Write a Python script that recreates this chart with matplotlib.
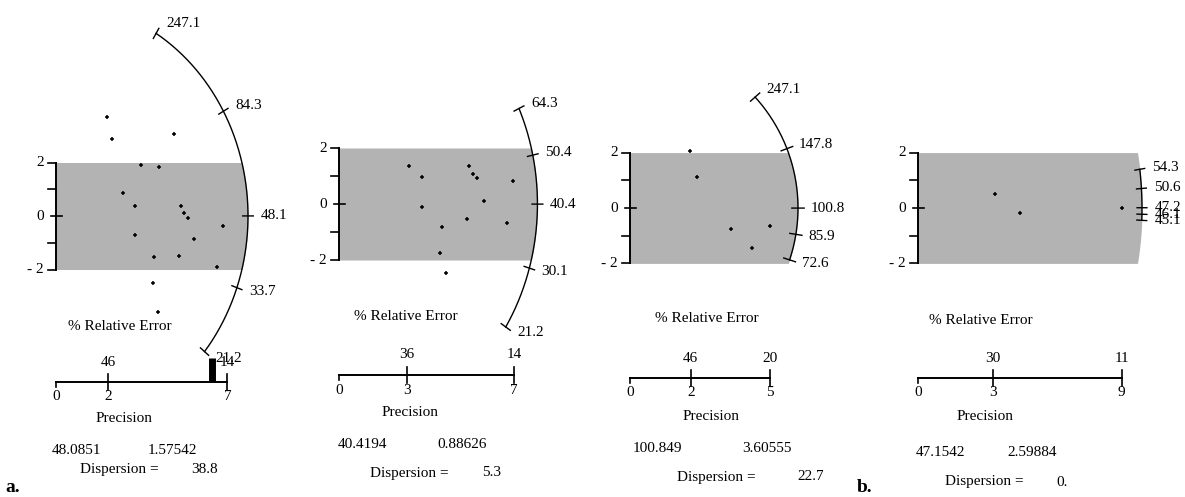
import numpy as np
import matplotlib.pyplot as plt

plt.rcParams['font.family'] = ['Liberation Serif', 'DejaVu Serif']

W, H = 1185, 497

# ---- panel 1 ----
p1_prec = [2.11, 2.35, 4.92, 3.53, 4.28, 2.79, 3.29, 5.21, 5.35, 5.51, 6.94, 3.31, 5.76,
           4.10, 5.14, 6.69, 4.03, 4.26]
p1_z = [3.69, 2.87, 3.07, 1.92, 1.82, 0.85, 0.39, 0.39, 0.10, -0.07, -0.37, -0.72, -0.87,
        -1.55, -1.50, -1.92, -2.52, -3.58]
p1_center = 48.0851
p1_sd = '1.57542'
p1_disp = '38.8'
p1_arc = [247.1, 84.3, 48.1, 33.7, 21.2]
p1_radius = 8.0
p1_relerr = [46, 14]
p1_prec_labels = ['2', '7']

# ---- panel 2 ----
p2_prec = [2.87, 3.37, 5.32, 5.46, 5.65, 7.09, 5.92, 3.37, 5.24, 6.84, 4.19, 4.12, 4.37]
p2_z = [1.36, 0.98, 1.36, 1.07, 0.92, 0.83, 0.11, -0.12, -0.55, -0.69, -0.81, -1.74, -2.48]
p2_center = 40.4194
p2_sd = '0.88626'
p2_disp = '5.3'
p2_arc = [64.3, 50.4, 40.4, 30.1, 21.2]
p2_radius = 8.1
p2_relerr = [36, 14]
p2_prec_labels = ['3', '7']

# ---- panel 3 ----
p3_prec = [2.14, 2.40, 3.60, 5.00, 4.35]
p3_z = [2.06, 1.11, -0.77, -0.64, -1.46]
p3_center = 100.849
p3_sd = '3.60555'
p3_disp = '22.7'
p3_arc = [247.1, 147.8, 100.8, 85.9, 72.6]
p3_radius = 6.0
p3_relerr = [46, 20]
p3_prec_labels = ['2', '5']

# ---- panel 4 ----
p4_prec = [3.44, 4.55, 9.12]
p4_z = [0.51, -0.17, -0.01]
p4_center = 47.1542
p4_sd = '2.59884'
p4_disp = '0.'
p4_arc = [54.3, 50.6, 47.2, 46.1, 45.1]
p4_radius = 10.0
p4_relerr = [30, 11]
p4_prec_labels = ['3', '9']

# cluster of overlapping end ticks drawn solid on the first panel's axis
p1_cluster_x = 6.52
p1_cluster_z = [-6.2, -5.3]

FS = 11
SHADE = '#b3b3b3'


def arc_point(v, c, r):
    m = np.log(v / c)
    x = r / np.sqrt(1 + m ** 2)
    return x, m * x


def draw_panel(fig, box, x0, y0, sx, sy, axis_y, text_pos,
               prec, z, center, sd, disp, arc, radius, relerr, prec_labels):
    bx0, bx1 = box
    ax = fig.add_axes([bx0 / W, 0, (bx1 - bx0) / W, 1])
    ax.set_xlim((bx0 - x0) / sx, (bx1 - x0) / sx)
    ax.set_ylim((y0 - H) / sy, y0 / sy)
    ax.axis('off')

    def px(xp, yp):
        return (xp - x0) / sx, (y0 - yp) / sy

    # shaded +/-2 band clipped by the arc
    zz = np.linspace(-2, 2, 200)
    ax.fill_betweenx(zz, 0, np.sqrt(radius ** 2 - zz ** 2), color=SHADE, lw=0)

    # y axis
    tk = 8 / sx
    ax.plot([0, 0], [-2, 2], color='black', lw=1.4)
    for t in [-2, -1, 1, 2]:
        ax.plot([-tk, 0], [t, t], color='black', lw=1.2)
    ax.plot([-tk * 0.6, tk * 0.8], [0, 0], color='black', lw=1.2)
    for t, s in [(2, '2'), (0, '0'), (-2, '- 2')]:
        ax.text(-tk - 4 / sx, t, s, ha='right', va='center', fontsize=FS)

    # radial arc with its value ticks
    vals = np.geomspace(min(arc), max(arc), 300)
    pts = np.array([arc_point(v, center, radius) for v in vals])
    ax.plot(pts[:, 0], pts[:, 1], color='black', lw=1.0)
    for v in arc:
        xa, ya = arc_point(v, center, radius)
        ux, uy = xa / radius, ya / radius
        d = 0.22
        ax.plot([xa - d * ux, xa + d * ux], [ya - d * uy, ya + d * uy], color='black', lw=1.0)
        ang = np.arctan2(uy, ux)
        ax.annotate(f'{v:g}', (xa, ya), xytext=(5 + 4 * np.cos(ang), 8 * np.sin(ang)),
                    textcoords='offset points', ha='left', va='center', fontsize=FS)

    # data points
    ax.plot(prec, z, linestyle='none', marker='+', ms=3, mew=1.1, color='black')

    # precision axis with relative error ticks
    za = (y0 - axis_y) / sy
    tks = [100 / r for r in relerr]
    ax.plot([0, tks[-1]], [za, za], color='black', lw=1.4)
    up, dn = 8 / sy, 8 / sy
    ax.plot([0, 0], [za, za - 5 / sy], color='black', lw=1.2)
    for t, r, lab in zip(tks, relerr, prec_labels):
        ax.plot([t, t], [za - dn, za + up], color='black', lw=1.2)
        ax.text(t, za + 20 / sy, str(r), ha='center', va='center', fontsize=FS)
        ax.text(t, za - 15 / sy, lab, ha='center', va='center', fontsize=FS)
    ax.text(0, za - 15 / sy, '0', ha='center', va='center', fontsize=FS)

    labels = ['% Relative Error', 'Precision', f'{center:g}', sd, 'Dispersion =', disp]
    for s, (xp, yp) in zip(labels, text_pos):
        ax.text(*px(xp, yp), s, ha='center', va='center', fontsize=FS)
    return ax


fig = plt.figure(figsize=(W / 100, H / 100), dpi=100)

ax1 = draw_panel(fig, (0, 290), 56, 216, 24, 26.75, 382,
                 [(120, 326), (124, 418), (77, 450), (172, 450), (119, 469), (205, 469)],
                 p1_prec, p1_z, p1_center, p1_sd, p1_disp, p1_arc, p1_radius,
                 p1_relerr, p1_prec_labels)
ax1.plot([p1_cluster_x, p1_cluster_x], p1_cluster_z, color='black', lw=5, solid_capstyle='butt')

draw_panel(fig, (290, 590), 339, 204, 24.5, 28, 375,
           [(406, 317), (410, 412), (363, 445), (462, 445), (409, 473), (492, 473)],
           p2_prec, p2_z, p2_center, p2_sd, p2_disp, p2_arc, p2_radius,
           p2_relerr, p2_prec_labels)

draw_panel(fig, (590, 870), 630, 208, 28, 27.7, 378,
           [(707, 318), (711, 417), (657, 448), (767, 448), (716, 477), (811, 477)],
           p3_prec, p3_z, p3_center, p3_sd, p3_disp, p3_arc, p3_radius,
           p3_relerr, p3_prec_labels)

draw_panel(fig, (870, 1185), 918, 208, 22.4, 27.7, 378,
           [(981, 320), (985, 416), (941, 452), (1032, 452), (984, 482), (1062, 482)],
           p4_prec, p4_z, p4_center, p4_sd, p4_disp, p4_arc, p4_radius,
           p4_relerr, p4_prec_labels)

fig.text(5 / W, 1 - 487 / H, 'a.', fontsize=14, fontweight='bold', va='center', ha='left')
fig.text(857 / W, 1 - 487 / H, 'b.', fontsize=14, fontweight='bold', va='center', ha='left')

fig.savefig('out.png', dpi=100)
